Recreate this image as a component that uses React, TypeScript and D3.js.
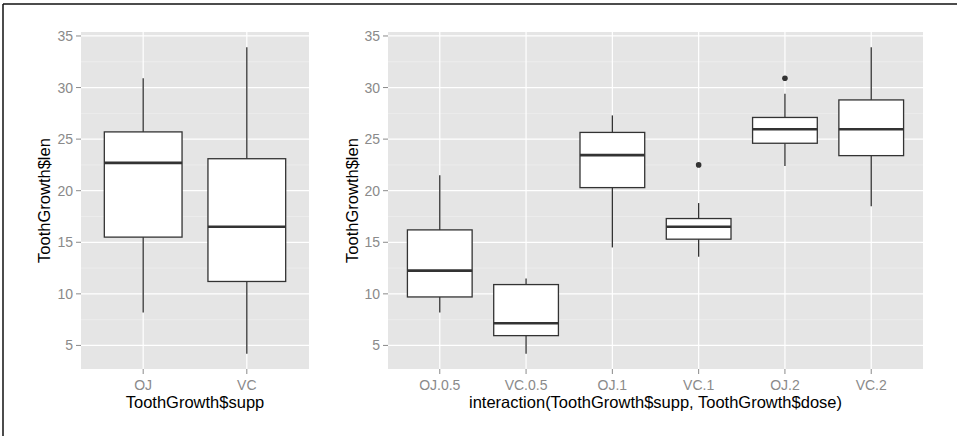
import React from "react";
import * as d3 from "d3";

// Left plot: by supplement
const suppCategories = ["OJ", "VC"];
const suppMin = [8.2, 4.2];
const suppQ1 = [15.5, 11.2];
const suppMedian = [22.7, 16.5];
const suppQ3 = [25.7, 23.1];
const suppMax = [30.9, 33.9];
const suppOutliers: number[][] = [[], []];

// Right plot: by supplement x dose
const interCategories = ["OJ.0.5", "VC.0.5", "OJ.1", "VC.1", "OJ.2", "VC.2"];
const interMin = [8.2, 4.2, 14.5, 13.6, 22.4, 18.5];
const interQ1 = [9.7, 5.95, 20.3, 15.3, 24.6, 23.4];
const interMedian = [12.25, 7.15, 23.45, 16.5, 25.95, 25.95];
const interQ3 = [16.2, 10.9, 25.65, 17.3, 27.1, 28.8];
const interMax = [21.5, 11.5, 27.3, 18.8, 29.4, 33.9];
const interOutliers: number[][] = [[], [], [], [22.5], [30.9], []];

const yTicks = [5, 10, 15, 20, 25, 30, 35];
const yMinorTicks = [7.5, 12.5, 17.5, 22.5, 27.5, 32.5];
const yDomain: [number, number] = [2.715, 35.385];

const FONT = "'Liberation Sans', Arial, Helvetica, sans-serif";
const TICK_COL = "#8a8a8a";

type PanelProps = {
  left: number;
  right: number;
  top: number;
  bottom: number;
  cats: string[];
  mins: number[];
  q1: number[];
  med: number[];
  q3: number[];
  maxs: number[];
  outs: number[][];
  xTitle: string;
  yTitleX: number;
};

function Panel(p: PanelProps) {
  const y = d3.scaleLinear().domain(yDomain).range([p.bottom, p.top]);
  const n = p.cats.length;
  const xl = d3.scaleLinear().domain([0.4, n + 0.6]).range([p.left, p.right]);
  const x = (i: number) => xl(i + 1);
  const bw = xl(1.75) - xl(1);
  const dark = "#333333";
  return (
    <g>
      <rect x={p.left} y={p.top} width={p.right - p.left} height={p.bottom - p.top} fill="#e5e5e5" />
      {yMinorTicks.map((t) => (
        <line key={"mn" + t} x1={p.left} x2={p.right} y1={y(t)} y2={y(t)} stroke="#f2f2f2" strokeWidth={0.6} />
      ))}
      {yTicks.map((t) => (
        <line key={"mj" + t} x1={p.left} x2={p.right} y1={y(t)} y2={y(t)} stroke="#ffffff" strokeWidth={1.2} />
      ))}
      {p.cats.map((c, i) => (
        <line key={"vx" + c} x1={x(i)} x2={x(i)} y1={p.top} y2={p.bottom} stroke="#ffffff" strokeWidth={1.2} />
      ))}
      {p.cats.map((c, i) => {
        const cx = x(i);
        return (
          <g key={"box" + c}>
            <line x1={cx} x2={cx} y1={y(p.maxs[i])} y2={y(p.q3[i])} stroke={dark} strokeWidth={1.3} />
            <line x1={cx} x2={cx} y1={y(p.q1[i])} y2={y(p.mins[i])} stroke={dark} strokeWidth={1.3} />
            <rect
              x={cx - bw / 2}
              y={y(p.q3[i])}
              width={bw}
              height={y(p.q1[i]) - y(p.q3[i])}
              fill="#ffffff"
              stroke={dark}
              strokeWidth={1.3}
            />
            <line x1={cx - bw / 2} x2={cx + bw / 2} y1={y(p.med[i])} y2={y(p.med[i])} stroke={dark} strokeWidth={2.6} />
            {p.outs[i].map((o, j) => (
              <circle key={j} cx={cx} cy={y(o)} r={2.8} fill={dark} />
            ))}
          </g>
        );
      })}
      {yTicks.map((t) => (
        <g key={"yt" + t}>
          <line x1={p.left - 5} x2={p.left} y1={y(t)} y2={y(t)} stroke={TICK_COL} strokeWidth={1} />
          <text x={p.left - 8} y={y(t)} dy="0.36em" textAnchor="end" fill={TICK_COL} fontSize={14} fontFamily={FONT}>
            {t}
          </text>
        </g>
      ))}
      {p.cats.map((c, i) => (
        <g key={"xt" + c}>
          <line x1={x(i)} x2={x(i)} y1={p.bottom} y2={p.bottom + 5} stroke={TICK_COL} strokeWidth={1} />
          <text x={x(i)} y={p.bottom + 16} dy="0.36em" textAnchor="middle" fill={TICK_COL} fontSize={14} fontFamily={FONT}>
            {c}
          </text>
        </g>
      ))}
      <text
        x={(p.left + p.right) / 2}
        y={p.bottom + 33}
        dy="0.36em"
        textAnchor="middle"
        fill="#000"
        fontSize={16.5}
        fontFamily={FONT}
      >
        {p.xTitle}
      </text>
      <text
        transform={`translate(${p.yTitleX},${(p.top + p.bottom) / 2}) rotate(-90)`}
        dy="0.36em"
        textAnchor="middle"
        fill="#000"
        fontSize={16.5}
        fontFamily={FONT}
      >
        ToothGrowth$len
      </text>
    </g>
  );
}

export default function App() {
  const W = 957;
  const H = 436;
  return (
    <svg width={W} height={H} style={{ position: "absolute", left: 0, top: 0, background: "#fff" }}>
      <rect x={0} y={0} width={W} height={H} fill="#fff" />
      <line x1={3} x2={W} y1={4} y2={4} stroke="#111" strokeWidth={1.5} />
      <line x1={3} x2={3} y1={4} y2={H} stroke="#111" strokeWidth={1.5} />
      <Panel
        left={81}
        right={309}
        top={32}
        bottom={369}
        cats={suppCategories}
        mins={suppMin}
        q1={suppQ1}
        med={suppMedian}
        q3={suppQ3}
        maxs={suppMax}
        outs={suppOutliers}
        xTitle="ToothGrowth$supp"
        yTitleX={44}
      />
      <Panel
        left={388}
        right={923}
        top={32}
        bottom={369}
        cats={interCategories}
        mins={interMin}
        q1={interQ1}
        med={interMedian}
        q3={interQ3}
        maxs={interMax}
        outs={interOutliers}
        xTitle="interaction(ToothGrowth$supp, ToothGrowth$dose)"
        yTitleX={352}
      />
    </svg>
  );
}
